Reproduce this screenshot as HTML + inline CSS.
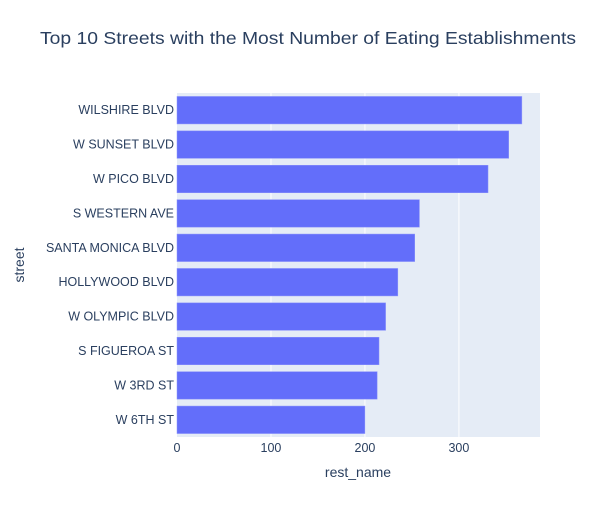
<!DOCTYPE html>
<html><head><meta charset="utf-8"><style>
body{margin:0;background:#fff;}
svg{font-family:"Liberation Sans",Arial,sans-serif;}
</style></head><body>
<svg id="c" width="602" height="500" xmlns="http://www.w3.org/2000/svg">
<rect width="602" height="500" fill="#fff"/>
<text x="40" y="44" textLength="536" lengthAdjust="spacingAndGlyphs" font-size="17.5" fill="#2a3f5f">Top 10 Streets with the Most Number of Eating Establishments</text>
<rect x="177" y="93" width="363" height="344" fill="#e5ecf6"/>
<g id="grid"></g><g id="bars"></g><g id="xt"></g><g id="yt"></g>
<text x="358" y="477" text-anchor="middle" font-size="14" fill="#2a3f5f">rest_name</text>
<text x="0" y="0" transform="translate(24,265) rotate(-90)" text-anchor="middle" font-size="14" fill="#2a3f5f">street</text>
</svg>
<script>
const categories=["WILSHIRE BLVD","W SUNSET BLVD","W PICO BLVD","S WESTERN AVE","SANTA MONICA BLVD","HOLLYWOOD BLVD","W OLYMPIC BLVD","S FIGUEROA ST","W 3RD ST","W 6TH ST"];
const values=[367,353,331,258,253,235,222,215,213,200];
const ticks=[0,100,200,300];
const NS="http://www.w3.org/2000/svg";
const x0=177,x1=540,y0=93,y1=437;
const xmax=Math.max(...values)*1.0526;
const xs=v=>x0+v/xmax*(x1-x0);
const band=(y1-y0)/categories.length;
const yc=i=>y0+band*(i+0.5);
function mk(t,a,p){const e=document.createElementNS(NS,t);for(const k in a)e.setAttribute(k,a[k]);p.appendChild(e);return e;}
const grid=document.getElementById('grid'),bars=document.getElementById('bars'),xt=document.getElementById('xt'),yt=document.getElementById('yt');
ticks.forEach(t=>{
  if(t>0){const g=mk('line',{x1:xs(t),x2:xs(t),y1:y0,y2:y1,stroke:'#fff','stroke-width':1},grid);
  
  }
  const l=mk('text',{x:xs(t),y:452,'text-anchor':'middle','font-size':12.5,fill:'#2a3f5f'},xt);
  l.textContent=t;
  
  
});
categories.forEach((c,i)=>{
  const h=band*0.8;
  const r=mk('rect',{x:x0,y:yc(i)-h/2,width:xs(values[i])-x0,height:h,fill:'#636efa',stroke:'#8f97fb','stroke-width':0.5},bars);
  
  
  const l=mk('text',{x:174,y:yc(i)+4,'text-anchor':'end','font-size':12.5,fill:'#2a3f5f'},yt);
  l.textContent=c;
  
  
});
</script>
</body></html>
